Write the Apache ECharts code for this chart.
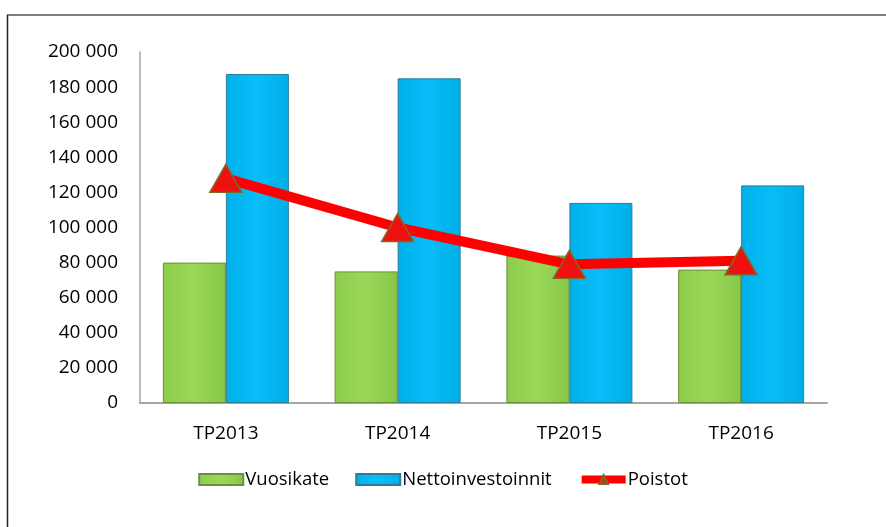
<!DOCTYPE html>
<html>
<head>
<meta charset="utf-8">
<script src="https://cdn.jsdelivr.net/npm/echarts@6/dist/echarts.min.js"></script>
<style>
    html, body { margin: 0; padding: 0; background: #fff; }
    #main { width: 886px; height: 527px; }
</style>
</head>
<body>
<div id="main"></div>
<script>
    // data
    var categories = ['TP2013', 'TP2014', 'TP2015', 'TP2016'];
    var vuosikate = [80000, 75000, 84000, 76000];
    var nettoinvestoinnit = [187500, 185000, 114000, 124000];
    var poistot = [128000, 100000, 79000, 81000];
    var yTicks = {min: 0, max: 200000, interval: 20000};

    function fmt(v) {
        return String(v).replace(/\B(?=(\d{3})+(?!\d))/g, ' ');
    }

    var font = 'Open Sans';
    var myChart = echarts.init(document.getElementById('main'));

    var option = {
        backgroundColor: '#fff',
        animation: false,
        textStyle: {fontFamily: font},
        grid: {left: 140, right: 59, top: 52, bottom: 124},
        graphic: [
            // chart frame (top and left edges only visible)
            {type: 'line', shape: {x1: 7, y1: 15, x2: 886, y2: 15}, style: {stroke: '#555', lineWidth: 1.5}},
            {type: 'line', shape: {x1: 7.5, y1: 15, x2: 7.5, y2: 527}, style: {stroke: '#222', lineWidth: 1.5}}
        ],
        legend: {
            bottom: 33,
            left: 'center',
            itemGap: 26,
            itemWidth: 44,
            itemHeight: 11,
            textStyle: {fontFamily: font, fontSize: 18.5, color: '#000', padding: [0, 0, 0, -3]},
            data: [
                {name: 'Vuosikate', icon: 'rect'},
                {name: 'Nettoinvestoinnit', icon: 'rect'},
                {name: 'Poistot', lineStyle: {width: 8, color: '#ff0000'}, itemStyle: {color: '#c03a1a', borderColor: '#7a6a2b'}}
            ]
        },
        xAxis: {
            type: 'category',
            data: categories,
            axisLine: {lineStyle: {color: '#a6a6a6', width: 2}},
            axisTick: {show: false},
            axisLabel: {color: '#000', fontSize: 19, margin: 21, fontFamily: font}
        },
        yAxis: {
            type: 'value',
            min: yTicks.min,
            max: yTicks.max,
            interval: yTicks.interval,
            axisLine: {show: true, lineStyle: {color: '#a6a6a6', width: 1.5}},
            axisTick: {show: false},
            splitLine: {show: false},
            axisLabel: {color: '#000', fontSize: 19, margin: 22, fontFamily: font, formatter: fmt}
        },
        series: [
            {
                name: 'Vuosikate',
                type: 'bar',
                data: vuosikate,
                barWidth: 63,
                barGap: '0%',
                itemStyle: {
                    color: new echarts.graphic.LinearGradient(0, 0, 1, 0, [
                        {offset: 0, color: '#8ccc4c'},
                        {offset: 0.5, color: '#9ad85a'},
                        {offset: 1, color: '#86c646'}
                    ]),
                    borderColor: '#6e8f3a',
                    borderWidth: 1
                }
            },
            {
                name: 'Nettoinvestoinnit',
                type: 'bar',
                data: nettoinvestoinnit,
                barWidth: 63,
                barGap: '0%',
                itemStyle: {
                    color: new echarts.graphic.LinearGradient(0, 0, 1, 0, [
                        {offset: 0, color: '#00b0ea'},
                        {offset: 0.5, color: '#08bdf8'},
                        {offset: 1, color: '#00aee6'}
                    ]),
                    borderColor: '#2d7d95',
                    borderWidth: 1
                }
            },
            {
                name: 'Poistot',
                type: 'line',
                data: poistot,
                symbol: 'triangle',
                symbolSize: [32, 28],
                lineStyle: {color: '#ff0000', width: 10},
                itemStyle: {color: '#f01010', borderColor: '#7a6a2b', borderWidth: 1.5},
                z: 5
            }
        ]
    };

    myChart.setOption(option);
</script>
</body>
</html>
